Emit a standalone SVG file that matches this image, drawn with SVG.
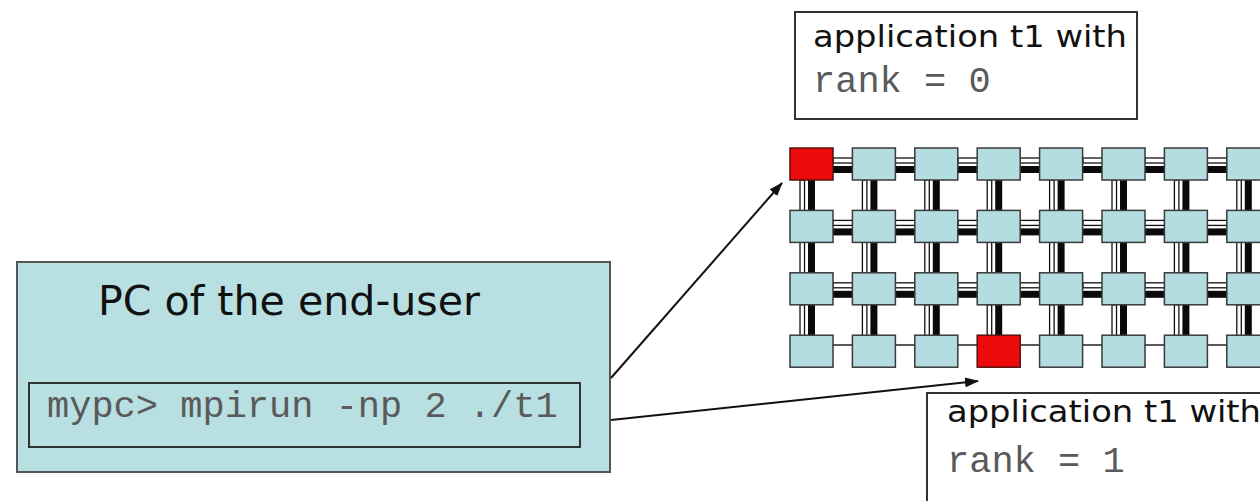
<svg xmlns="http://www.w3.org/2000/svg" xmlns:xlink="http://www.w3.org/1999/xlink" width="1260" height="501" viewBox="0 0 1260 501">
  <style>
    .node { fill: #b3dde0; stroke: #3a3a3a; stroke-width: 1.5; }
    .red { fill: #ee0a0a; stroke: #5a1010; stroke-width: 1.5; }
    .pipeW { fill: #ffffff; stroke: #111; stroke-width: 1.3; }
    .pipeB { fill: #0a0a0a; }
    .thin { stroke: #222; stroke-width: 1.3; fill: none; }
    .sans { font-family: "DejaVu Sans", Verdana, sans-serif; fill: #111; }
    .mono { font-family: "Liberation Mono", "Courier New", monospace; fill: #5a5a5a; }
    .arrow { stroke: #111; stroke-width: 2; fill: none; marker-end: url(#ah); }
    .label { fill: #ffffff; stroke: #333; stroke-width: 2; }
  </style>
  <defs>
    <marker id="ah" markerWidth="14" markerHeight="10" refX="13" refY="5" orient="auto" markerUnits="userSpaceOnUse">
      <path d="M0,0 L14,5 L0,10 Z" fill="#111"/>
    </marker>
    <g id="hpipe">
      <rect class="pipeW" x="0" y="10" width="20" height="5"/>
      <rect class="pipeB" x="0" y="18" width="20" height="7"/>
    </g>
    <g id="vpipe">
      <rect class="pipeW" x="10" y="0" width="4.5" height="31"/>
      <rect class="pipeB" x="18" y="0" width="7" height="31"/>
    </g>
  </defs>
  <rect width="1260" height="501" fill="#ffffff"/>

  <g id="pc">
    <rect x="17" y="262" width="593" height="210" fill="#b8dfe2" stroke="#555" stroke-width="2"/>
    <text class="sans" x="98" y="315" font-size="41" textLength="382" lengthAdjust="spacingAndGlyphs">PC of the end-user</text>
  </g>
  <g id="command">
    <rect x="29" y="383" width="551" height="64" fill="#b8dfe2" stroke="#333" stroke-width="2"/>
    <text class="mono" x="47" y="417" font-size="37" xml:space="preserve">mypc&gt; mpirun -np 2 ./t1</text>
  </g>

  <g id="label-rank0">
    <rect class="label" x="795" y="12" width="342" height="107"/>
    <text class="sans" x="813" y="47" font-size="31" textLength="314" lengthAdjust="spacingAndGlyphs">application t1 with</text>
    <text class="mono" x="813" y="92" font-size="37" xml:space="preserve">rank = 0</text>
  </g>
  <g id="label-rank1">
    <rect class="label" x="927" y="393" width="400" height="160"/>
    <text class="sans" x="947" y="422" font-size="31" textLength="314" lengthAdjust="spacingAndGlyphs">application t1 with</text>
    <text class="mono" x="947" y="472" font-size="37" xml:space="preserve">rank = 1</text>
  </g>

  <g id="grid-links">
    <!-- horizontal pipes rows 0-2 -->
    <use xlink:href="#hpipe" x="833" y="148"/><use xlink:href="#hpipe" x="895" y="148"/><use xlink:href="#hpipe" x="958" y="148"/><use xlink:href="#hpipe" x="1020" y="148"/><use xlink:href="#hpipe" x="1083" y="148"/><use xlink:href="#hpipe" x="1145" y="148"/><use xlink:href="#hpipe" x="1207" y="148"/>
    <use xlink:href="#hpipe" x="833" y="210.4"/><use xlink:href="#hpipe" x="895" y="210.4"/><use xlink:href="#hpipe" x="958" y="210.4"/><use xlink:href="#hpipe" x="1020" y="210.4"/><use xlink:href="#hpipe" x="1083" y="210.4"/><use xlink:href="#hpipe" x="1145" y="210.4"/><use xlink:href="#hpipe" x="1207" y="210.4"/>
    <use xlink:href="#hpipe" x="833" y="272.8"/><use xlink:href="#hpipe" x="895" y="272.8"/><use xlink:href="#hpipe" x="958" y="272.8"/><use xlink:href="#hpipe" x="1020" y="272.8"/><use xlink:href="#hpipe" x="1083" y="272.8"/><use xlink:href="#hpipe" x="1145" y="272.8"/><use xlink:href="#hpipe" x="1207" y="272.8"/>
    <!-- thin links row 3 -->
    <line class="thin" x1="833" y1="345" x2="1230" y2="345"/>
    <!-- vertical pipes -->
    <use xlink:href="#vpipe" x="790" y="180"/><use xlink:href="#vpipe" x="852.4" y="180"/><use xlink:href="#vpipe" x="914.8" y="180"/><use xlink:href="#vpipe" x="977.2" y="180"/><use xlink:href="#vpipe" x="1039.6" y="180"/><use xlink:href="#vpipe" x="1102" y="180"/><use xlink:href="#vpipe" x="1164.4" y="180"/><use xlink:href="#vpipe" x="1226.8" y="180"/>
    <use xlink:href="#vpipe" x="790" y="242.4"/><use xlink:href="#vpipe" x="852.4" y="242.4"/><use xlink:href="#vpipe" x="914.8" y="242.4"/><use xlink:href="#vpipe" x="977.2" y="242.4"/><use xlink:href="#vpipe" x="1039.6" y="242.4"/><use xlink:href="#vpipe" x="1102" y="242.4"/><use xlink:href="#vpipe" x="1164.4" y="242.4"/><use xlink:href="#vpipe" x="1226.8" y="242.4"/>
    <use xlink:href="#vpipe" x="790" y="304.8"/><use xlink:href="#vpipe" x="852.4" y="304.8"/><use xlink:href="#vpipe" x="914.8" y="304.8"/><use xlink:href="#vpipe" x="977.2" y="304.8"/><use xlink:href="#vpipe" x="1039.6" y="304.8"/><use xlink:href="#vpipe" x="1102" y="304.8"/><use xlink:href="#vpipe" x="1164.4" y="304.8"/><use xlink:href="#vpipe" x="1226.8" y="304.8"/>
  </g>

  <g id="grid-nodes">
    <g id="row0">
      <rect id="n0-0" class="red" x="790" y="148" width="43" height="32"/>
      <rect id="n0-1" class="node" x="852.4" y="148" width="43" height="32"/>
      <rect id="n0-2" class="node" x="914.8" y="148" width="43" height="32"/>
      <rect id="n0-3" class="node" x="977.2" y="148" width="43" height="32"/>
      <rect id="n0-4" class="node" x="1039.6" y="148" width="43" height="32"/>
      <rect id="n0-5" class="node" x="1102" y="148" width="43" height="32"/>
      <rect id="n0-6" class="node" x="1164.4" y="148" width="43" height="32"/>
      <rect id="n0-7" class="node" x="1226.8" y="148" width="43" height="32"/>
    </g>
    <g id="row1">
      <rect id="n1-0" class="node" x="790" y="210.4" width="43" height="32"/>
      <rect id="n1-1" class="node" x="852.4" y="210.4" width="43" height="32"/>
      <rect id="n1-2" class="node" x="914.8" y="210.4" width="43" height="32"/>
      <rect id="n1-3" class="node" x="977.2" y="210.4" width="43" height="32"/>
      <rect id="n1-4" class="node" x="1039.6" y="210.4" width="43" height="32"/>
      <rect id="n1-5" class="node" x="1102" y="210.4" width="43" height="32"/>
      <rect id="n1-6" class="node" x="1164.4" y="210.4" width="43" height="32"/>
      <rect id="n1-7" class="node" x="1226.8" y="210.4" width="43" height="32"/>
    </g>
    <g id="row2">
      <rect id="n2-0" class="node" x="790" y="272.8" width="43" height="32"/>
      <rect id="n2-1" class="node" x="852.4" y="272.8" width="43" height="32"/>
      <rect id="n2-2" class="node" x="914.8" y="272.8" width="43" height="32"/>
      <rect id="n2-3" class="node" x="977.2" y="272.8" width="43" height="32"/>
      <rect id="n2-4" class="node" x="1039.6" y="272.8" width="43" height="32"/>
      <rect id="n2-5" class="node" x="1102" y="272.8" width="43" height="32"/>
      <rect id="n2-6" class="node" x="1164.4" y="272.8" width="43" height="32"/>
      <rect id="n2-7" class="node" x="1226.8" y="272.8" width="43" height="32"/>
    </g>
    <g id="row3">
      <rect id="n3-0" class="node" x="790" y="335.2" width="43" height="32"/>
      <rect id="n3-1" class="node" x="852.4" y="335.2" width="43" height="32"/>
      <rect id="n3-2" class="node" x="914.8" y="335.2" width="43" height="32"/>
      <rect id="n3-3" class="red" x="977.2" y="335.2" width="43" height="32"/>
      <rect id="n3-4" class="node" x="1039.6" y="335.2" width="43" height="32"/>
      <rect id="n3-5" class="node" x="1102" y="335.2" width="43" height="32"/>
      <rect id="n3-6" class="node" x="1164.4" y="335.2" width="43" height="32"/>
      <rect id="n3-7" class="node" x="1226.8" y="335.2" width="43" height="32"/>
    </g>
  </g>

  <g id="connectors">
    <line class="arrow" x1="611" y1="378" x2="782" y2="183"/>
    <line class="arrow" x1="611" y1="420" x2="978" y2="381"/>
  </g>
</svg>
